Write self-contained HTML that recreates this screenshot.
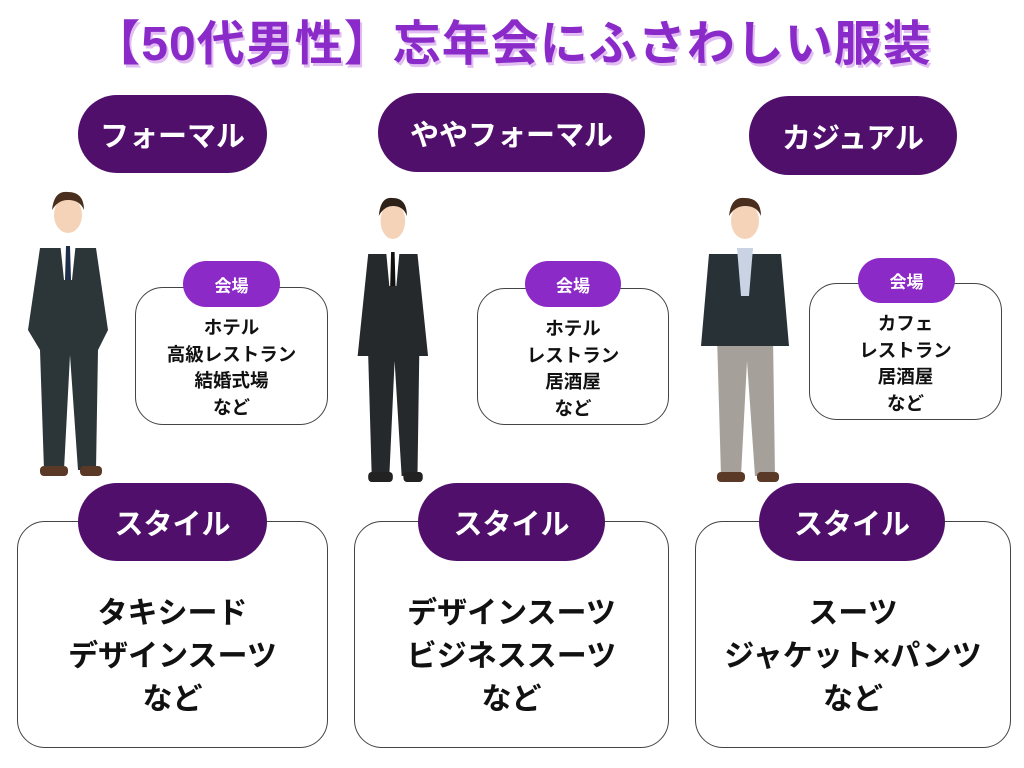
<!DOCTYPE html>
<html><head><meta charset="utf-8"><style>
*{margin:0;padding:0;box-sizing:border-box}
body{width:1024px;height:768px;background:#fff;position:relative;overflow:hidden;font-family:"Liberation Sans","Noto Sans CJK JP",sans-serif;font-weight:bold}
.abs{position:absolute}
.title{left:0;width:1024px;top:4px;text-align:center;font-size:48px;letter-spacing:1px;color:#8a2bc9;text-shadow:2px 3px 0 #e1bdf2}
.pill{position:absolute;background:#4f0f6b;color:#fff;border-radius:40px;display:flex;align-items:center;justify-content:center;font-size:29px}
.box{position:absolute;border:1.5px solid #444;border-radius:28px;background:#fff;text-align:center;color:#111}
.vp{position:absolute;background:#8c2ac8;color:#fff;border-radius:24px;display:flex;align-items:center;justify-content:center;font-size:17px}
.vt{font-size:18.5px;line-height:26.5px;padding-top:27px}
.st{font-size:30px;line-height:43px;padding-top:70px}
</style></head><body>
<div class="abs title">【50代男性】忘年会にふさわしい服装</div>

<div class="pill" style="left:78px;top:95px;width:189px;height:78px">フォーマル</div>
<div class="pill" style="left:378px;top:93px;width:267px;height:79px">ややフォーマル</div>
<div class="pill" style="left:749px;top:96px;width:208px;height:79px">カジュアル</div>

<svg class="abs" style="left:0;top:180px" width="1024" height="320">
 <g>
  <ellipse cx="68" cy="35" rx="14" ry="18" fill="#f5d3b8"/>
  <path d="M52 30 Q54 10 68 12 Q84 12 84 30 Q80 20 68 20 Q58 20 52 30Z" fill="#4a2e1e"/>
  <path d="M40 68 L96 68 L108 150 L98 170 L96 290 L78 290 L70 175 L64 290 L44 290 L40 170 L28 150Z" fill="#2c3538"/>
  <path d="M60 62 L76 62 L72 100 L64 100Z" fill="#fff"/>
  <path d="M66 66 L70 66 L71 100 L65 100Z" fill="#1f2e4a"/>
  <rect x="40" y="286" width="28" height="10" rx="4" fill="#5a3a26"/>
  <rect x="80" y="286" width="22" height="10" rx="4" fill="#5a3a26"/>
 </g>
 <g transform="translate(333,6) scale(0.88,1)">
  <ellipse cx="68" cy="35" rx="14" ry="18" fill="#f5d3b8"/>
  <path d="M52 30 Q54 10 68 12 Q84 12 84 30 Q80 20 68 20 Q58 20 52 30Z" fill="#2e2218"/>
  <path d="M40 68 L96 68 L108 170 L98 170 L96 290 L78 290 L70 175 L64 290 L44 290 L40 170 L28 170Z" fill="#25292c"/>
  <path d="M60 62 L76 62 L72 100 L64 100Z" fill="#fff"/>
  <path d="M66 66 L70 66 L71 100 L65 100Z" fill="#111"/>
  <rect x="40" y="286" width="28" height="10" rx="4" fill="#222"/>
  <rect x="80" y="286" width="22" height="10" rx="4" fill="#222"/>
 </g>
 <g transform="translate(677,6)">
  <ellipse cx="68" cy="35" rx="14" ry="18" fill="#f5d3b8"/>
  <path d="M52 30 Q54 10 68 12 Q84 12 84 30 Q80 20 68 20 Q58 20 52 30Z" fill="#4a2e1e"/>
  <path d="M40 150 L96 150 L98 290 L78 290 L70 175 L64 290 L44 290Z" fill="#a5a19a"/>
  <path d="M32 68 L104 68 L112 160 L24 160Z" fill="#283136"/>
  <path d="M60 62 L76 62 L72 110 L64 110Z" fill="#c9d3e4"/>
  <rect x="40" y="286" width="28" height="10" rx="4" fill="#5a3a26"/>
  <rect x="80" y="286" width="22" height="10" rx="4" fill="#5a3a26"/>
 </g>
</svg>

<div class="box vt" style="left:135px;top:287px;width:193px;height:138px">ホテル<br>高級レストラン<br>結婚式場<br>など</div>
<div class="vp" style="left:183px;top:261px;width:97px;height:46px">会場</div>
<div class="box vt" style="left:477px;top:288px;width:192px;height:137px">ホテル<br>レストラン<br>居酒屋<br>など</div>
<div class="vp" style="left:525px;top:261px;width:96px;height:46px">会場</div>
<div class="box vt" style="left:809px;top:283px;width:193px;height:137px">カフェ<br>レストラン<br>居酒屋<br>など</div>
<div class="vp" style="left:858px;top:258px;width:97px;height:45px">会場</div>

<div class="box st" style="left:17px;top:521px;width:311px;height:227px">タキシード<br>デザインスーツ<br>など</div>
<div class="pill" style="left:78px;top:483px;width:189px;height:78px">スタイル</div>
<div class="box st" style="left:354px;top:521px;width:315px;height:227px">デザインスーツ<br>ビジネススーツ<br>など</div>
<div class="pill" style="left:418px;top:483px;width:187px;height:78px">スタイル</div>
<div class="box st" style="left:695px;top:521px;width:316px;height:227px">スーツ<br>ジャケット×パンツ<br>など</div>
<div class="pill" style="left:759px;top:483px;width:186px;height:78px">スタイル</div>
</body></html>
